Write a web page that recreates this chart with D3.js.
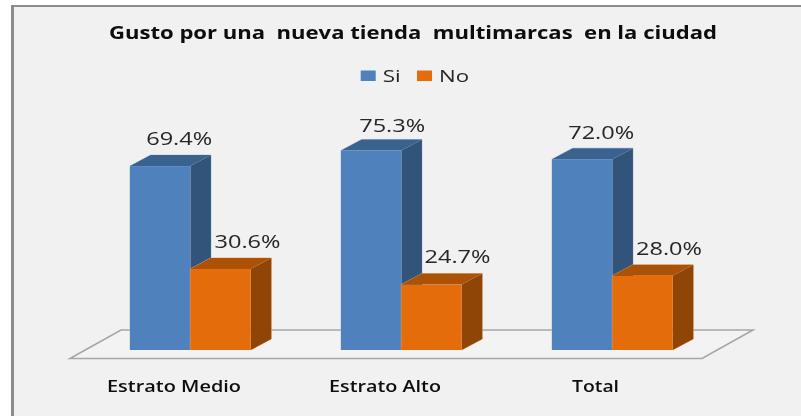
<!DOCTYPE html>
<html><head><meta charset="utf-8">
<style>html,body{margin:0;padding:0;background:#fff}svg{display:block}</style>
<script src="https://cdn.jsdelivr.net/npm/d3@7"></script></head>
<body><svg id="c" width="801" height="416"></svg>
<script>
const titleText = "Gusto por una  nueva tienda  multimarcas  en la ciudad";
const categories = ["Estrato Medio", "Estrato Alto", "Total"];
const seriesNames = ["Si", "No"];
const si = [69.4, 75.3, 72.0];
const no = [30.6, 24.7, 28.0];

const colors = {
  Si: {front:"#4f81bd", top:"#3a628f", side:"#32547b", edge:"#a9bfdb"},
  No: {front:"#e46c0a", top:"#ac5206", side:"#8f4505", edge:"#eeb183"}
};
const svg = d3.select("#c");
const W = 801, H = 416;
const dx = 20.6, dy = 11;
const baseY = 350;
const font = "'Open Sans'";

const defs = svg.append("defs");
defs.append("filter").attr("id","soft").attr("x","-5%").attr("y","-20%").attr("width","110%").attr("height","140%")
  .append("feGaussianBlur").attr("stdDeviation",0.4);

// panel: only the top and left edges of the frame are in the picture
svg.append("rect").attr("x",13).attr("y",6).attr("width",W-13).attr("height",H-6).attr("fill","#f1f1f1");
svg.append("line").attr("x1",11).attr("x2",W).attr("y1",6).attr("y2",6).attr("stroke","#8c8c8c").attr("stroke-width",2);
svg.append("line").attr("x1",12.5).attr("x2",12.5).attr("y1",5).attr("y2",H).attr("stroke","#8c8c8c").attr("stroke-width",3);

const x = d3.scaleBand().domain(categories).range([85,718]);
const xs = d3.scaleBand().domain(seriesNames).range([0,120.7]);
const y = d3.scaleLinear().domain([0,100]).range([baseY,85]);
const xCenterOffset = x.bandwidth()/2 - 60.5;

// floor
const fl = [[70,358.5],[702,358.5],[753,330],[121,330]];
svg.append("path").attr("d",d3.line()(fl)+"Z").attr("fill","#f3f3f3")
  .attr("stroke","#a6a6a6").attr("stroke-width",1.6);

const g = svg.append("g");
const series = [["Si",si],["No",no]];
series.forEach(([name,vals])=>{
  const c = colors[name];
  categories.forEach((cat,i)=>{
    const x0 = x(cat)+xCenterOffset+xs(name), w = xs.bandwidth(), top = y(vals[i]);
    const gg = g.append("g");
    gg.append("path").attr("fill","none").attr("stroke",c.edge).attr("stroke-width",0.8).attr("d",
      d3.line()([[x0,baseY],[x0,top],[x0+dx,top-dy],[x0+w+dx,top-dy],[x0+w+dx,baseY-dy],[x0+w,baseY]]));
    gg.append("path").attr("fill",c.side).attr("d",
      d3.line()([[x0+w,top],[x0+w+dx,top-dy],[x0+w+dx,baseY-dy],[x0+w,baseY]])+"Z");
    gg.append("path").attr("fill",c.top).attr("d",
      d3.line()([[x0,top],[x0+dx,top-dy],[x0+w+dx,top-dy],[x0+w,top]])+"Z");
    gg.append("rect").attr("x",x0).attr("y",top).attr("width",w).attr("height",baseY-top).attr("fill",c.front);
  });
});

const texts = svg.append("g").attr("filter","url(#soft)");
function label(str,x0,yy,len,size,weight,fill){
  texts.append("text").text(str).attr("x",x0).attr("y",yy)
    .attr("textLength",len).attr("lengthAdjust","spacingAndGlyphs")
    .style("white-space","pre")
    .attr("font-family",font).attr("font-size",size).attr("font-weight",weight).attr("fill",fill);
}

// data labels
const labelShift = {Si:[19,21,19], No:[27,26,26.5]};
const labelLift = {Si:[21,18,20], No:[21,21.5,21]};
series.forEach(([name,vals])=>{
  categories.forEach((cat,i)=>{
    const x0 = x(cat)+xCenterOffset+xs(name), w = xs.bandwidth();
    label(d3.format(".1f")(vals[i])+"%", x0+w/2+labelShift[name][i]-33, y(vals[i])-labelLift[name][i], 66, 18, 400, "#262626");
  });
});

// category labels
const catLeft = [107,329,572], catLen = [134,112,47];
categories.forEach((cat,i)=> label(cat,catLeft[i],392,catLen[i],15.5,600,"#111"));

// title
label(titleText,109,39,608,17,700,"#0d0d0d");

// legend
const legendX = [360.7, 417], legendTextLen = [18,30];
seriesNames.forEach((n,i)=>{
  svg.append("rect").attr("x",legendX[i]).attr("y",70.5).attr("width",15).attr("height",10.5).attr("fill",colors[n].front);
  label(n,legendX[i]+22,82,legendTextLen[i],17,400,"#262626");
});
</script></body></html>
